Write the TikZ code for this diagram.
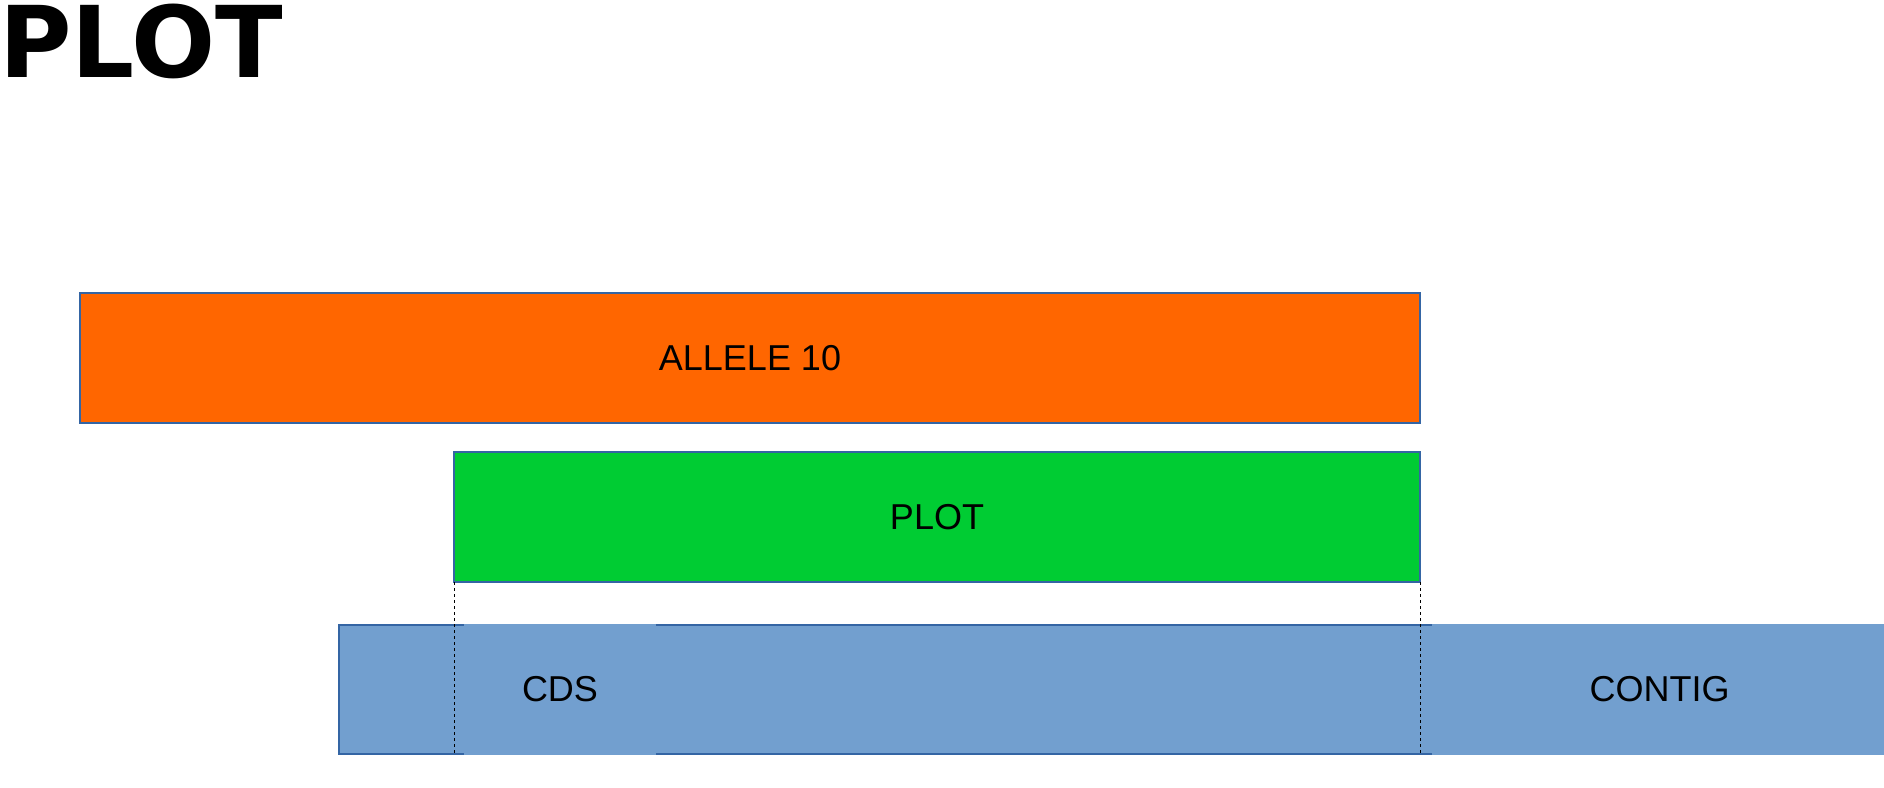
\documentclass[tikz,border=0pt]{standalone}
\usepackage{fontspec}
\setmainfont{Liberation Sans}
\newfontfamily\titlefont{DejaVu Sans}
\usepackage{tikz}
\definecolor{alleleorange}{HTML}{FF6600}
\definecolor{plotgreen}{HTML}{00CC33}
\definecolor{contigblue}{HTML}{729FCF}
\definecolor{edgeblue}{HTML}{3465A4}

\begin{document}
\begin{tikzpicture}[x=0.5pt, y=-0.5pt,
        bar/.style={draw=edgeblue, line width=0.75pt, inner sep=0pt, outer sep=0pt,
            anchor=north west, minimum height=65pt, font=\fontsize{18}{21}\selectfont},
        plainbar/.style={inner sep=0pt, outer sep=0pt, anchor=west,
            minimum height=65.6pt, fill=contigblue, font=\fontsize{18}{21}\selectfont},
        guide/.style={line width=0.5pt, dash pattern=on 1.5pt off 1.5pt}]
                \useasboundingbox (0,0) rectangle (1884,787);
                \node[anchor=base west, inner sep=0pt, font=\titlefont\bfseries\fontsize{49.5}{55}\selectfont] (title) at (-1,77) {PLOT};
                \node[bar, fill=alleleorange, minimum width=670pt] (allele) at (80,293) {ALLELE 10};
                \node[bar, fill=plotgreen, minimum width=483pt] (plot) at (454,452) {PLOT};
                \node[bar, fill=contigblue, minimum width=547pt, minimum height=64.5pt] (region) at (339,625) {};
                \node[plainbar, minimum width=96pt] (cds) at (464,689.5) {CDS};
                \node[plainbar, minimum width=228pt] (contig) at (1431.5,689.5) {CONTIG};
                \draw[guide] (plot.south west) -- (plot.south west |- region.south);
                \draw[guide] (plot.south east) -- (plot.south east |- region.south);
            \end{tikzpicture}
\end{document}
